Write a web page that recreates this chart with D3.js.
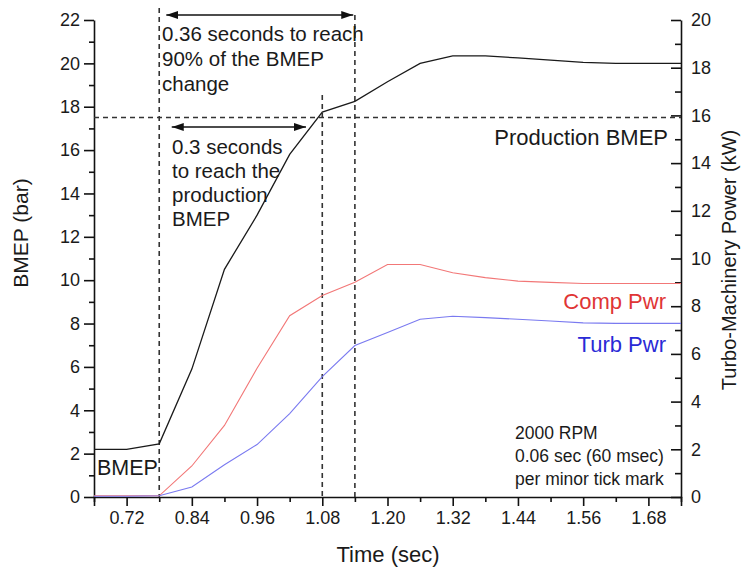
<!DOCTYPE html>
<html>
<head>
<meta charset="utf-8">
<script src="https://cdn.jsdelivr.net/npm/d3@7"></script>
<style>
  body { margin: 0; background: #fff; }
  svg text { font-family: "Liberation Sans", Arial, sans-serif; fill: #1a1a1a; }
  .axis path, .axis line { stroke: #111; }
</style>
</head>
<body>
<svg id="chart" width="744" height="575"></svg>
<script>
// time samples (sec), one every minor tick mark
var time = [0.66, 0.72, 0.78, 0.84, 0.90, 0.96, 1.02, 1.08, 1.14, 1.20,
            1.26, 1.32, 1.38, 1.44, 1.50, 1.56, 1.62, 1.68, 1.74];
// BMEP (bar), left axis
var bmep = [2.2, 2.2, 2.45, 5.9, 10.5, 13.0, 15.8, 17.75, 18.25, 19.15,
            20.0, 20.35, 20.35, 20.25, 20.15, 20.05, 20.0, 20.0, 20.0];
// compressor power (kW), right axis
var compPwr = [0.05, 0.05, 0.05, 1.3, 3.0, 5.4, 7.6, 8.45, 9.0, 9.75,
               9.75, 9.4, 9.2, 9.05, 9.0, 8.95, 8.95, 8.95, 8.95];
// turbine power (kW), right axis
var turbPwr = [0.03, 0.03, 0.05, 0.42, 1.35, 2.2, 3.5, 5.05, 6.35, 6.9,
               7.45, 7.58, 7.52, 7.45, 7.38, 7.3, 7.28, 7.28, 7.28];

var xMajor = [0.72, 0.84, 0.96, 1.08, 1.20, 1.32, 1.44, 1.56, 1.68];
var xMinor = [0.66, 0.78, 0.90, 1.02, 1.14, 1.26, 1.38, 1.50, 1.62, 1.74];
var yLeftMajor = [0, 2, 4, 6, 8, 10, 12, 14, 16, 18, 20, 22];
var yLeftMinor = [1, 3, 5, 7, 9, 11, 13, 15, 17, 19, 21];
var yRightMajor = [0, 2, 4, 6, 8, 10, 12, 14, 16, 18, 20];
var yRightMinor = [1, 3, 5, 7, 9, 11, 13, 15, 17, 19];

var productionBmep = 17.5;
var markTimes = [0.78, 1.08, 1.14];

var svg = d3.select("#chart");

var x = d3.scaleLinear().domain([0.66, 1.74]).range([94, 681]),
    yL = d3.scaleLinear().domain([0, 22]).range([497, 20]),
    yR = d3.scaleLinear().domain([0, 20]).range([497, 20]);

// axes
svg.append("g")
    .attr("class", "axis")
    .attr("transform", "translate(0,497)")
    .call(d3.axisBottom(x).tickValues(xMajor).tickSize(9).tickPadding(5)
        .tickFormat(d3.format(".2f")))
    .call(function (g) {
        g.selectAll("text").style("font-size", "18px");
    });
svg.append("g")
    .attr("class", "axis")
    .attr("transform", "translate(0,497)")
    .call(d3.axisBottom(x).tickValues(xMinor).tickSize(5).tickFormat(""))
    .call(function (g) { g.select(".domain").remove(); });

svg.append("g")
    .attr("class", "axis")
    .attr("transform", "translate(94,0)")
    .call(d3.axisLeft(yL).tickValues(yLeftMajor).tickSize(10).tickPadding(4).tickSizeOuter(0))
    .call(function (g) {
        g.selectAll("text").style("font-size", "18px");
    });
svg.append("g")
    .attr("class", "axis")
    .attr("transform", "translate(94,0)")
    .call(d3.axisLeft(yL).tickValues(yLeftMinor).tickSize(5).tickFormat(""))
    .call(function (g) { g.select(".domain").remove(); });

svg.append("g")
    .attr("class", "axis")
    .attr("transform", "translate(681,0)")
    .call(d3.axisRight(yR).tickValues(yRightMajor).tickSize(-10).tickPadding(10).tickSizeOuter(0))
    .call(function (g) {
        g.selectAll("text").style("font-size", "18px");
    });
svg.append("g")
    .attr("class", "axis")
    .attr("transform", "translate(681,0)")
    .call(d3.axisRight(yR).tickValues(yRightMinor).tickSize(-6).tickFormat(""))
    .call(function (g) { g.select(".domain").remove(); });

svg.selectAll(".axis path, .axis line").attr("stroke-width", 1.6);

// axis titles
svg.append("text")
    .attr("transform", "translate(28,233) rotate(-90)")
    .attr("text-anchor", "middle")
    .style("font-size", "21px")
    .text("BMEP (bar)");
svg.append("text")
    .attr("transform", "translate(736,260) rotate(-90)")
    .attr("text-anchor", "middle")
    .style("font-size", "20px")
    .text("Turbo-Machinery Power (kW)");
svg.append("text")
    .attr("x", 388)
    .attr("y", 562)
    .attr("text-anchor", "middle")
    .style("font-size", "22px")
    .text("Time (sec)");

// dashed reference lines
var dash = "5,4";
svg.append("line")
    .attr("x1", x(0.66)).attr("x2", x(1.74))
    .attr("y1", yL(productionBmep)).attr("y2", yL(productionBmep))
    .attr("stroke", "#333").attr("stroke-width", 1.4).attr("stroke-dasharray", dash);

var markTops = [8, 95, 15];
markTimes.forEach(function (t, i) {
    svg.append("line")
        .attr("x1", x(t)).attr("x2", x(t))
        .attr("y1", markTops[i]).attr("y2", yL(0))
        .attr("stroke", "#333").attr("stroke-width", 1.6).attr("stroke-dasharray", dash);
});

// data lines
var line = function (ys, scale) {
    return d3.line()
        .x(function (d, i) { return x(time[i]); })
        .y(function (d) { return scale(d); })(ys);
};

svg.append("path").attr("d", line(compPwr, yR))
    .attr("fill", "none").attr("stroke", "#f27777").attr("stroke-width", 1.1);
svg.append("path").attr("d", line(turbPwr, yR))
    .attr("fill", "none").attr("stroke", "#7a7af0").attr("stroke-width", 1.1);
svg.append("path").attr("d", line(bmep, yL))
    .attr("fill", "none").attr("stroke", "#1a1a1a").attr("stroke-width", 1.3);

// double-headed arrows
var defs = svg.append("defs");
defs.append("marker")
    .attr("id", "head")
    .attr("viewBox", "0 0 12 8")
    .attr("refX", 12).attr("refY", 4)
    .attr("markerWidth", 12).attr("markerHeight", 8)
    .attr("markerUnits", "userSpaceOnUse")
    .attr("orient", "auto-start-reverse")
    .append("path")
    .attr("d", "M0,0 L12,4 L0,8 Z")
    .attr("fill", "#111");

function arrow(t0, t1, y) {
    svg.append("line")
        .attr("x1", x(t0)).attr("x2", x(t1))
        .attr("y1", y).attr("y2", y)
        .attr("stroke", "#111").attr("stroke-width", 1.5)
        .attr("marker-start", "url(#head)")
        .attr("marker-end", "url(#head)");
}
arrow(0.793, 1.137, 15);
arrow(0.803, 1.05, 127);

// annotations
function textBlock(lines, x0, y0, step, size, anchor, color) {
    var t = svg.append("text")
        .attr("text-anchor", anchor || "start")
        .style("font-size", size + "px");
    if (color) t.style("fill", color);
    lines.forEach(function (s, i) {
        t.append("tspan").attr("x", x0).attr("y", y0 + i * step).text(s);
    });
}

textBlock(["0.36 seconds to reach", "90% of the BMEP", "change"], 162, 41, 25, 20.5);
textBlock(["0.3 seconds", "to reach the", "production", "BMEP"], 172, 154, 24, 20.5);
textBlock(["Production BMEP"], 668, 145, 0, 22, "end");
textBlock(["Comp Pwr"], 666, 309, 0, 22, "end", "#e03535");
textBlock(["Turb Pwr"], 666, 352, 0, 22, "end", "#2a2ad6");
textBlock(["BMEP"], 97, 475, 0, 21.5);
textBlock(["2000 RPM", "0.06 sec (60 msec)", "per minor tick mark"], 515, 439, 23, 17.5);
</script>
</body>
</html>
